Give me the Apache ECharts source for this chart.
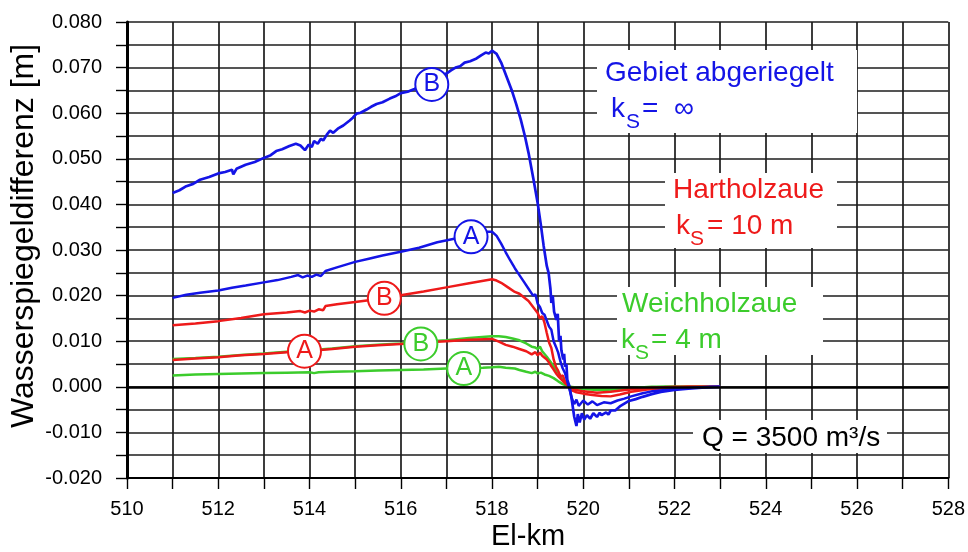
<!DOCTYPE html>
<html>
<head>
<meta charset="utf-8">
<script src="https://cdn.jsdelivr.net/npm/echarts@6/dist/echarts.min.js"></script>
<style>
  html, body { margin: 0; padding: 0; background: #fff; }
  #chart { width: 968px; height: 552px; }
</style>
</head>
<body>
<div id="chart"></div>
<script>
// Water level difference along the river (El-km), Q = 3500 m3/s
// Each curve: [El-km, difference in m]

// Gebiet abgeriegelt (k_S = infinity), variant B
const blueB = [
  [511.0, 0.0425], [511.15, 0.0431], [511.3, 0.0440], [511.45, 0.0445], [511.6, 0.0454], [511.8, 0.0460],
  [512.0, 0.0468], [512.15, 0.0471], [512.3, 0.0476], [512.33, 0.0466], [512.4, 0.0478], [512.6, 0.0487],
  [512.8, 0.0493], [513.0, 0.0502], [513.15, 0.0508], [513.27, 0.0517], [513.4, 0.0521], [513.56, 0.0528],
  [513.7, 0.0533], [513.8, 0.0529], [513.9, 0.0519], [513.98, 0.0531], [514.05, 0.0526], [514.1, 0.0539],
  [514.18, 0.0533], [514.25, 0.0544], [514.3, 0.0540], [514.38, 0.0553], [514.45, 0.0562], [514.52, 0.0557],
  [514.62, 0.0566], [514.74, 0.0573], [514.88, 0.0584], [514.95, 0.0590], [515.03, 0.0599], [515.12, 0.0601],
  [515.25, 0.0608], [515.35, 0.0614], [515.47, 0.0620], [515.6, 0.0624], [515.76, 0.0632], [515.88, 0.0637],
  [516.0, 0.0644], [516.15, 0.0647], [516.3, 0.0653], [516.7, 0.0672], [517.0, 0.0687], [517.1, 0.0694],
  [517.2, 0.0700], [517.3, 0.0703], [517.4, 0.0711], [517.52, 0.0714], [517.66, 0.0720], [517.76, 0.0727],
  [517.86, 0.0733], [517.93, 0.0731], [518.0, 0.0737],
  [518.1, 0.0730], [518.2, 0.0711], [518.3, 0.0685], [518.43, 0.0651], [518.53, 0.0620], [518.63, 0.0586],
  [518.72, 0.0550], [518.8, 0.0513], [518.91, 0.0454], [519.0, 0.0403], [519.07, 0.0355], [519.13, 0.0310],
  [519.2, 0.0265], [519.24, 0.0250], [519.28, 0.0215], [519.3, 0.0184], [519.33, 0.0200], [519.36, 0.0165],
  [519.41, 0.0147], [519.44, 0.0160], [519.47, 0.0100], [519.5, 0.0112], [519.52, 0.0080], [519.56, 0.0060],
  [519.58, 0.0072], [519.6, 0.0044], [519.63, 0.0050], [519.65, 0.0015], [519.7, 0.0000], [519.75, -0.0030],
  [519.8, -0.0065], [519.85, -0.0086], [519.88, -0.0060], [519.92, -0.0078], [519.97, -0.0058], [520.02, -0.0072],
  [520.08, -0.0062], [520.15, -0.0070], [520.22, -0.0058], [520.3, -0.0066], [520.36, -0.0057], [520.4, -0.0062],
  [520.5, -0.0056], [520.55, -0.0061], [520.6, -0.0052], [520.7, -0.0052], [520.8, -0.0043], [520.9, -0.0037],
  [521.0, -0.0031], [521.15, -0.0027], [521.3, -0.0022], [521.5, -0.0016], [521.7, -0.0011], [522.0, -0.0007],
  [522.3, -0.0004], [522.6, -0.0002], [523.0, 0.0000]
];

// Gebiet abgeriegelt, variant A
const blueA = [
  [511.0, 0.0195], [511.3, 0.0202], [511.6, 0.0206], [512.0, 0.0211], [512.3, 0.0217], [512.6, 0.0222],
  [513.0, 0.0229], [513.3, 0.0234], [513.6, 0.0241], [513.75, 0.0245], [513.85, 0.0240], [513.95, 0.0244],
  [514.05, 0.0241], [514.15, 0.0246], [514.25, 0.0243], [514.35, 0.0254], [514.6, 0.0262], [515.0, 0.0274],
  [515.3, 0.0281], [515.6, 0.0288], [516.0, 0.0296], [516.4, 0.0305], [516.8, 0.0317], [517.2, 0.0325],
  [517.5, 0.0332], [517.9, 0.0340], [518.0, 0.0340], [518.1, 0.0331], [518.2, 0.0314], [518.3, 0.0295],
  [518.4, 0.0277], [518.5, 0.0260], [518.6, 0.0245], [518.7, 0.0230], [518.8, 0.0215], [518.9, 0.0200],
  [518.95, 0.0203], [519.0, 0.0182], [519.05, 0.0175], [519.1, 0.0162], [519.15, 0.0158], [519.2, 0.0145],
  [519.25, 0.0132], [519.3, 0.0125], [519.35, 0.0100], [519.4, 0.0088], [519.45, 0.0075], [519.5, 0.0055],
  [519.55, 0.0040], [519.6, 0.0030], [519.65, 0.0012], [519.7, -0.0007], [519.75, -0.0025], [519.8, -0.0038],
  [519.85, -0.0028], [519.9, -0.0042], [520.0, -0.0030], [520.1, -0.0039], [520.2, -0.0032], [520.3, -0.0040],
  [520.45, -0.0034], [520.6, -0.0036], [520.75, -0.0030], [520.9, -0.0026], [521.05, -0.0021], [521.3, -0.0014],
  [521.5, -0.0010], [521.8, -0.0007], [522.2, -0.0003], [522.8, 0.0000], [523.0, 0.0000]
];

// Hartholzaue (k_S = 10 m), variant B
const redB = [
  [511.0, 0.0135], [511.5, 0.0139], [512.0, 0.0144], [512.5, 0.0151], [513.0, 0.0159], [513.5, 0.0163],
  [513.8, 0.0166], [513.9, 0.0163], [514.0, 0.0167], [514.1, 0.0165], [514.2, 0.0170], [514.3, 0.0168],
  [514.35, 0.0177], [514.6, 0.0181], [515.0, 0.0186], [515.3, 0.0190], [515.6, 0.0195], [516.0, 0.0201],
  [516.5, 0.0209], [517.0, 0.0218], [517.5, 0.0227], [518.0, 0.0236], [518.1, 0.0233], [518.2, 0.0228],
  [518.35, 0.0218], [518.5, 0.0208], [518.6, 0.0204], [518.8, 0.0188], [518.9, 0.0175], [519.0, 0.0162],
  [519.05, 0.0150], [519.1, 0.0155], [519.15, 0.0140], [519.2, 0.0118], [519.25, 0.0097], [519.3, 0.0085],
  [519.35, 0.0060], [519.4, 0.0044], [519.45, 0.0035], [519.5, 0.0022], [519.55, 0.0025], [519.6, 0.0012],
  [519.68, 0.0000], [519.75, -0.0008], [519.85, -0.0012], [520.0, -0.0015], [520.2, -0.0018], [520.4, -0.0020],
  [520.6, -0.0021], [520.8, -0.0017], [521.05, -0.0011], [521.4, -0.0006], [521.8, -0.0003], [522.3, 0.0000],
  [523.0, 0.0000]
];

// Hartholzaue, variant A
const redA = [
  [511.0, 0.0059], [511.5, 0.0062], [512.0, 0.0065], [512.5, 0.0069], [513.0, 0.0072], [513.5, 0.0076],
  [513.9, 0.0079], [514.3, 0.0081], [514.5, 0.0083], [515.0, 0.0088], [515.5, 0.0091], [516.0, 0.0094],
  [516.5, 0.0097], [517.0, 0.0100], [517.5, 0.0103], [518.0, 0.0105], [518.15, 0.0099], [518.3, 0.0092],
  [518.45, 0.0088], [518.6, 0.0083], [518.75, 0.0078], [518.87, 0.0071], [518.95, 0.0076], [519.0, 0.0069],
  [519.05, 0.0075], [519.1, 0.0068], [519.2, 0.0060], [519.25, 0.0053], [519.3, 0.0045], [519.35, 0.0038],
  [519.4, 0.0030], [519.47, 0.0021], [519.55, 0.0013], [519.62, 0.0006], [519.7, 0.0000], [519.8, -0.0006],
  [520.0, -0.0010], [520.3, -0.0013], [520.6, -0.0011], [521.0, -0.0006], [521.5, -0.0002], [522.0, 0.0000],
  [523.0, 0.0000]
];

// Weichholzaue (k_S = 4 m), variant B
const greenB = [
  [511.0, 0.0061], [511.5, 0.0063], [512.0, 0.0066], [512.5, 0.0070], [513.0, 0.0073], [513.5, 0.0077],
  [514.0, 0.0080], [514.5, 0.0084], [515.0, 0.0089], [515.5, 0.0092], [516.0, 0.0095], [516.5, 0.0099],
  [517.0, 0.0102], [517.5, 0.0107], [518.0, 0.0111], [518.15, 0.0111], [518.3, 0.0109], [518.45, 0.0106],
  [518.6, 0.0102], [518.75, 0.0095], [518.87, 0.0088], [518.95, 0.0086], [519.0, 0.0083], [519.05, 0.0088],
  [519.1, 0.0078], [519.2, 0.0066], [519.3, 0.0052], [519.4, 0.0038], [519.46, 0.0030], [519.55, 0.0015],
  [519.62, 0.0008], [519.7, 0.0000], [519.9, -0.0004], [520.3, -0.0007], [520.7, -0.0006], [521.2, -0.0003],
  [521.8, 0.0000], [523.0, 0.0000]
];

// Weichholzaue, variant A
const greenA = [
  [511.0, 0.0025], [511.5, 0.0027], [512.0, 0.0028], [512.5, 0.0029], [513.0, 0.0030], [513.5, 0.0031],
  [514.0, 0.0032], [514.1, 0.0030], [514.2, 0.0032], [514.5, 0.0033], [515.0, 0.0034], [515.5, 0.0036],
  [516.0, 0.0037], [516.5, 0.0038], [517.0, 0.0040], [517.5, 0.0041], [517.8, 0.0042], [518.0, 0.0043],
  [518.15, 0.0044], [518.3, 0.0042], [518.5, 0.0040], [518.6, 0.0037], [518.75, 0.0033], [518.87, 0.0030],
  [518.95, 0.0033], [519.0, 0.0029], [519.07, 0.0031], [519.15, 0.0027], [519.25, 0.0024], [519.35, 0.0019],
  [519.45, 0.0012], [519.55, 0.0006], [519.7, 0.0000], [520.0, -0.0003], [520.5, -0.0005], [521.0, -0.0003],
  [521.5, 0.0000], [523.0, 0.0000]
];

// Circled variant tags sitting on the curves: [El-km, value, letter]
const tagsBlue = [[516.68, 0.0663, 'B'], [517.54, 0.0329, 'A']];
const tagsRed = [[515.64, 0.0194, 'B'], [513.89, 0.0078, 'A']];
const tagsGreen = [[516.44, 0.0094, 'B'], [517.38, 0.0040, 'A']];

const BLUE = '#1414e6';
const RED = '#ee1a1a';
const GREEN = '#3ccc2c';
const FONT = "'Liberation Sans', Arial, Helvetica, sans-serif";

const chart = echarts.init(document.getElementById('chart'), null, { renderer: 'canvas' });

const gridLine = { show: true, lineStyle: { color: '#1c1c1c', width: 1.7 } };
const tickStyle = { color: '#000', width: 1.4 };

function curve(name, data, color, width) {
  return {
    name: name, type: 'line', data: data, showSymbol: false, symbol: 'none',
    lineStyle: { color: color, width: width }, z: 3, animation: false
  };
}

function tagSeries(tags, color) {
  return {
    type: 'scatter', z: 6, animation: false, silent: true,
    symbol: 'circle', symbolSize: 33,
    itemStyle: { color: '#fff', borderColor: color, borderWidth: 2, opacity: 1 },
    label: {
      show: true, position: 'inside', color: color, fontSize: 25, fontFamily: FONT,
      formatter: p => p.data[2]
    },
    data: tags
  };
}

function fmtY(v) {
  let r = Math.round(v * 1000) / 1000;
  if (Math.abs(r) < 1e-9) r = 0;
  return r.toFixed(3);
}

// white boxes behind the annotation text
const boxes = [
  [597, 50, 260, 83],
  [665, 173, 172, 75],
  [617, 287, 206, 68],
  [693, 420, 194, 33]
];

function txt(left, y, text, color, size) {
  return {
    type: 'text', left: left, top: y - size / 2, z: 8,
    style: { text: text, fill: color, font: size + 'px ' + FONT, textVerticalAlign: 'top' }
  };
}

const graphics = boxes.map(b => ({
  type: 'rect', shape: { x: b[0], y: b[1], width: b[2], height: b[3] },
  style: { fill: '#fff' }, z: 1, silent: true
}));

graphics.push(
  txt(605, 73, 'Gebiet abgeriegelt', BLUE, 28),
  txt(611, 109, 'k', BLUE, 28),
  txt(626, 122, 'S', BLUE, 21),
  txt(642, 109, '=  \u221E', BLUE, 28),

  txt(673, 190, 'Hartholzaue', RED, 28),
  txt(676, 226, 'k', RED, 28),
  txt(690, 239, 'S', RED, 21),
  txt(707, 226, '= 10 m', RED, 28),

  txt(622, 304, 'Weichholzaue', GREEN, 28),
  txt(621, 340, 'k', GREEN, 28),
  txt(635, 353, 'S', GREEN, 21),
  txt(651, 340, '= 4 m', GREEN, 28),

  txt(702, 438, 'Q = 3500 m\u00B3/s', '#000', 28),

  {
    type: 'text', left: 531 - 40, top: 522, z: 8,
    style: { text: 'El-km', fill: '#000', font: '29px ' + FONT }
  },
  {
    type: 'text', z: 8, rotation: Math.PI / 2, x: 8, y: 236,
    style: { text: 'Wasserspiegeldifferenz [m]', fill: '#000', font: '32px ' + FONT,
             textAlign: 'center', textVerticalAlign: 'top' }
  }
);

const option = {
  backgroundColor: '#fff',
  animation: false,
  grid: { left: 127, right: 17, top: 22, bottom: 74, show: false },
  xAxis: {
    type: 'value', min: 510, max: 528, interval: 2,
    axisLine: { show: true, onZero: false, lineStyle: { color: '#000', width: 2.2 } },
    axisTick: { show: true, length: 11, lineStyle: tickStyle },
    minorTick: { show: true, splitNumber: 2, length: 11, lineStyle: tickStyle },
    splitLine: gridLine,
    minorSplitLine: gridLine,
    axisLabel: { fontSize: 20, color: '#000', margin: 21, fontFamily: FONT }
  },
  yAxis: {
    type: 'value', min: -0.02, max: 0.08, interval: 0.01,
    axisLine: { show: true, onZero: false, lineStyle: { color: '#000', width: 3 } },
    axisTick: { show: true, length: 11, lineStyle: tickStyle },
    minorTick: { show: true, splitNumber: 2, length: 11, lineStyle: tickStyle },
    splitLine: gridLine,
    minorSplitLine: gridLine,
    axisLabel: { fontSize: 20, color: '#000', margin: 25, fontFamily: FONT, formatter: fmtY }
  },
  graphic: graphics,
  series: [
    {
      type: 'line', data: [], z: 2, silent: true,
      markLine: {
        silent: true, symbol: 'none', label: { show: false }, animation: false,
        lineStyle: { color: '#000', width: 2.6, type: 'solid' },
        data: [{ yAxis: 0 }]
      }
    },
    curve('Weichholzaue A', greenA, GREEN, 2.5),
    curve('Weichholzaue B', greenB, GREEN, 2.5),
    curve('Hartholzaue A', redA, RED, 2.5),
    curve('Hartholzaue B', redB, RED, 2.5),
    curve('Gebiet abgeriegelt A', blueA, BLUE, 2.5),
    curve('Gebiet abgeriegelt B', blueB, BLUE, 2.7),
    tagSeries(tagsGreen, GREEN),
    tagSeries(tagsRed, RED),
    tagSeries(tagsBlue, BLUE)
  ]
};

chart.setOption(option);
</script>
</body>
</html>
